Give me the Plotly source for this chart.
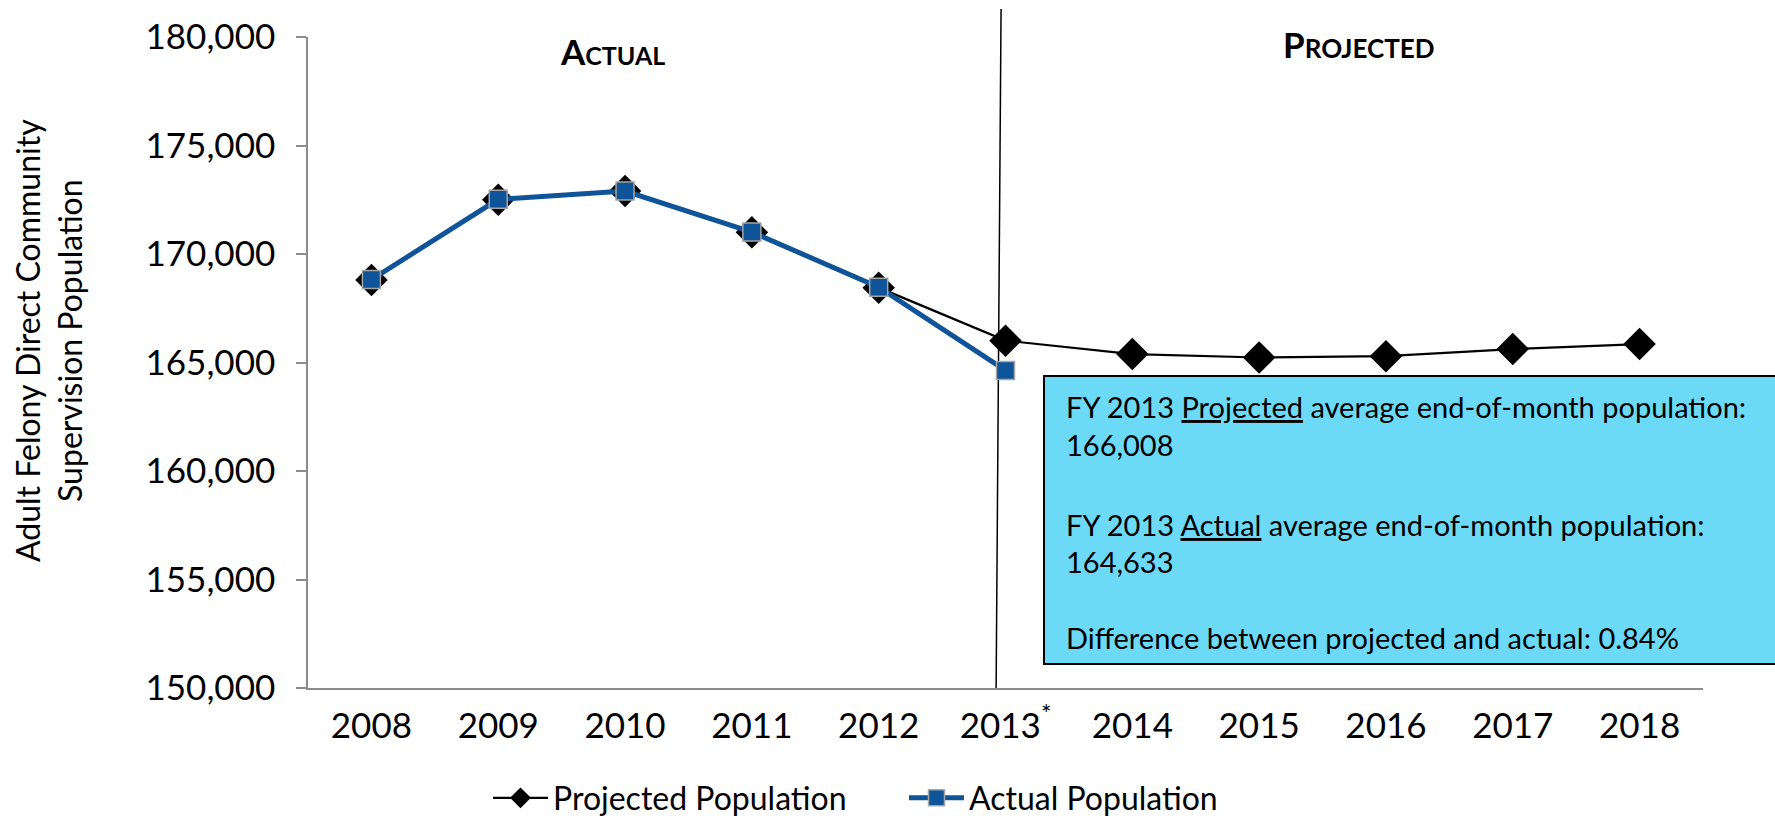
import plotly.graph_objects as go

years = ["2008", "2009", "2010", "2011", "2012", "2013", "2014", "2015", "2016", "2017", "2018"]
tick_labels = ["2008", "2009", "2010", "2011", "2012", "2013<sup>*</sup>", "2014", "2015", "2016", "2017", "2018"]
projected = [168800, 172500, 172900, 171000, 168450, 166008, 165390, 165230, 165290, 165620, 165850]
actual_years = ["2008", "2009", "2010", "2011", "2012", "2013"]
actual = [168820, 172520, 172900, 171010, 168470, 164633]

y_ticks = [150000, 155000, 160000, 165000, 170000, 175000, 180000]

y_title = "Adult Felony Direct Community<br>Supervision Population"
box_lines = [
    "FY 2013 <u>Projected</u> average end-of-month population:",
    "166,008",
    "FY 2013 <u>Actual</u> average end-of-month population:",
    "164,633",
    "Difference between projected and actual: 0.84%",
]

FONT = "Lato, 'Open Sans', sans-serif"
W, H = 1775, 819

# plot-area geometry in pixels (used for paper-fraction conversions)
L, R, T, B = 308, 72, 37, 131
PW, PH = W - L - R, H - T - B


def px_x(px):
    return (px - L) / PW


def px_y(py):
    return (H - B - py) / PH


fig = go.Figure()
fig.add_trace(go.Scatter(
    x=years, y=projected, name="Projected Population", mode="lines+markers",
    line=dict(color="black", width=2.2),
    marker=dict(symbol="diamond", size=25, color="black"),
))
fig.add_trace(go.Scatter(
    x=actual_years, y=actual, name="Actual Population", mode="lines+markers",
    line=dict(color="#0f5499", width=5),
    marker=dict(symbol="square", size=18, color="#0f5499", line=dict(color="#a6a6a6", width=1.5)),
))

# Divider line between actual and projected
fig.add_shape(type="line", xref="x", yref="paper", x0=4.926, x1=4.965, y0=0, y1=px_y(9),
              line=dict(color="black", width=1.5), layer="below")

# Info box
fig.add_shape(type="rect", xref="paper", yref="paper", x0=px_x(1044), x1=px_x(1790),
              y0=px_y(664), y1=px_y(376),
              fillcolor="#6cdaf7", line=dict(color="black", width=2))
line_px = [406, 445, 524, 561, 637]
for txt, py in zip(box_lines, line_px):
    fig.add_annotation(text=txt, xref="paper", yref="paper", x=px_x(1064), y=px_y(py),
                       xanchor="left", yanchor="middle", showarrow=False,
                       font=dict(family=FONT, size=29, color="black"))

# Section headers (small caps)
fig.add_annotation(text="<b><span style='font-size:35px'>A</span>CTUAL</b>", xref="paper", yref="paper",
                   x=px_x(612), y=px_y(51), showarrow=False,
                   font=dict(family=FONT, size=25, color="black"), xanchor="center", yanchor="middle")
fig.add_annotation(text="<b><span style='font-size:35px'>P</span>ROJECTED</b>", xref="paper", yref="paper",
                   x=px_x(1359), y=px_y(44), showarrow=False,
                   font=dict(family=FONT, size=26, color="black"), xanchor="center", yanchor="middle")

# Y-axis title (as rotated annotation so it can sit slightly above centre)
fig.add_annotation(text=y_title, xref="paper", yref="paper", x=px_x(48), y=px_y(341),
                   textangle=-90, showarrow=False, xanchor="center", yanchor="middle",
                   font=dict(family=FONT, size=32, color="black"))

fig.update_layout(
    width=W, height=H,
    margin=dict(l=L, r=R, t=T, b=B, autoexpand=False),
    plot_bgcolor="white", paper_bgcolor="white",
    showlegend=True,
    legend=dict(orientation="h", xref="container", yref="container",
                x=488 / W, y=1 - 798 / H, xanchor="left", yanchor="middle",
                font=dict(family=FONT, size=32, color="black"), itemwidth=55,
                entrywidth=346,
                traceorder="normal", bgcolor="rgba(0,0,0,0)"),
    xaxis=dict(
        type="category", categoryorder="array", categoryarray=years,
        tickvals=years, ticktext=tick_labels, automargin=False,
        range=[-0.5, 10.5], showgrid=False,
        showline=True, linecolor="#8c8c8c", linewidth=1.5, ticks="",
        tickfont=dict(family=FONT, size=35, color="black"),
        ticklabelstandoff=6,
    ),
    yaxis=dict(
        range=[150000, 180000], tickvals=y_ticks, tickformat=",d", showgrid=False,
        automargin=False,
        showline=True, linecolor="#8c8c8c", linewidth=1.5,
        ticks="outside", ticklen=10, tickcolor="#8c8c8c", tickwidth=1.5,
        tickfont=dict(family=FONT, size=35, color="black"),
        ticklabelstandoff=14,
    ),
)

fig.write_html("out.html", config={"displayModeBar": False},
               post_script="document.body.style.margin='0px';")
